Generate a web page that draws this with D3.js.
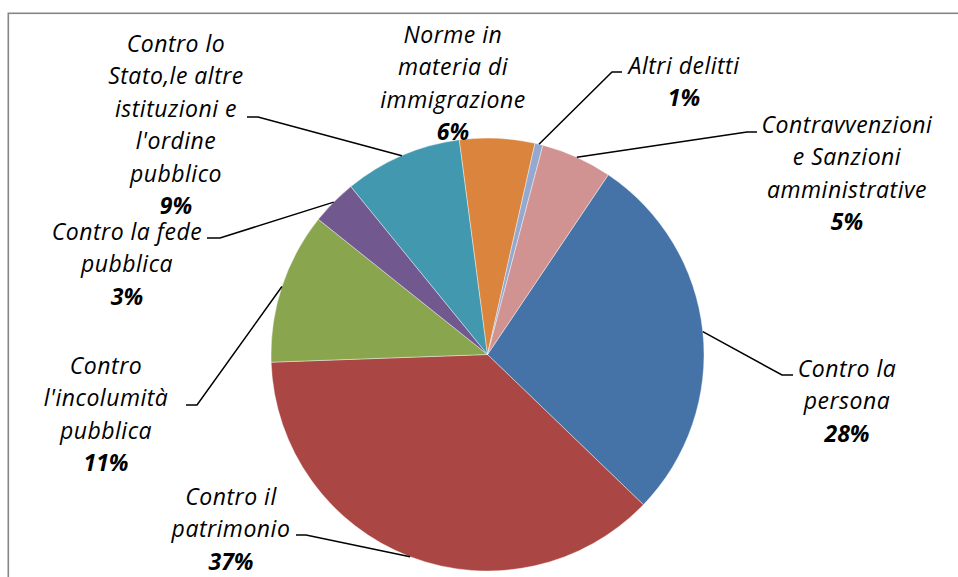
<!DOCTYPE html>
<html>
<head>
<meta charset="utf-8">
<script src="https://cdn.jsdelivr.net/npm/d3@7"></script>
<style>
  body { margin: 0; background: #fff; }
  svg { display: block; }
  .lbl { font-family: "Open Sans", "Liberation Sans", sans-serif; font-style: italic; font-size: 23px; letter-spacing: 0.5px; fill: #000; }
  .lbl .pct { font-weight: bold; letter-spacing: 0; }
</style>
</head>
<body>
<svg id="chart"></svg>
<script>
'use strict';

// categories (clockwise from the first slice) and their shares
const categories = [
  ['Contro la', 'persona'],
  ['Contro il', 'patrimonio'],
  ['Contro', "l'incolumità", 'pubblica'],
  ['Contro la fede', 'pubblica'],
  ['Contro lo', 'Stato,le altre', 'istituzioni e', "l'ordine", 'pubblico'],
  ['Norme in', 'materia di', 'immigrazione'],
  ['Altri delitti'],
  ['Contravvenzioni', 'e Sanzioni', 'amministrative']
];
const values = [27.8, 37.25, 11.3, 3.4, 8.8, 5.6, 0.6, 5.3];
const colors = ['#4572A7', '#AA4643', '#89A54E', '#71588F', '#4198AF', '#DB843D', '#93A9CF', '#D19392'];

// label layout: centre x, first line centre y, leader elbow (null = no leader)
const labelPos = [
  { x: 847, y: 369, elbow: [[793, 375], [782, 375]] },
  { x: 231, y: 497, elbow: [[296, 535], [306, 535]] },
  { x: 106, y: 366, elbow: [[186, 405], [197, 405]] },
  { x: 127, y: 232, elbow: [[207, 238], [220, 238]] },
  { x: 176, y: 44,  elbow: [[247, 117], [258, 117]] },
  { x: 453, y: 35,  elbow: null },
  { x: 684, y: 66,  elbow: [[622, 72], [612, 72]] },
  { x: 847, y: 125, elbow: [[757, 132], [747, 132]] }
];

const W = 958, H = 577;
const cx = 487.5, cy = 354.5, r = 216.5;
const lineH = 32.4;
const rot = 33.9 * Math.PI / 180;

const svg = d3.select('#chart')
  .attr('width', W)
  .attr('height', H);

// chart frame
svg.append('rect')
  .attr('x', 8.3).attr('y', 13.3)
  .attr('width', W + 20).attr('height', H + 20)
  .attr('fill', 'none')
  .attr('stroke', '#868686')
  .attr('stroke-width', 1.6);

const total = d3.sum(values);
const pie = d3.pie().sort(null).startAngle(rot).endAngle(rot + 2 * Math.PI);
const arcs = pie(values);
const arc = d3.arc().innerRadius(0).outerRadius(r);

const g = svg.append('g')
  .attr('transform', `translate(${cx}, ${cy})`);

g.selectAll('path')
  .data(arcs)
  .enter().append('path')
    .attr('d', arc)
    .attr('fill', (d, i) => colors[i])
    .attr('stroke', '#fff')
    .attr('stroke-width', 0.4);

// leader lines from slice mid-angle on the rim to the label
const leader = d3.line();
svg.append('g')
  .selectAll('path')
  .data(arcs.filter((d, i) => labelPos[i].elbow))
  .enter().append('path')
    .attr('d', d => {
      const i = d.index;
      const a = (d.startAngle + d.endAngle) / 2;
      const rim = [cx + r * Math.sin(a), cy - r * Math.cos(a)];
      return leader(labelPos[i].elbow.concat([rim]));
    })
    .attr('fill', 'none')
    .attr('stroke', '#000')
    .attr('stroke-width', 1.5);

// labels
const labels = svg.append('g')
  .selectAll('text')
  .data(arcs)
  .enter().append('text')
    .attr('class', 'lbl')
    .attr('text-anchor', 'middle')
    .attr('x', (d, i) => labelPos[i].x)
    .attr('y', (d, i) => labelPos[i].y);

labels.each(function(d, i) {
  const t = d3.select(this);
  const lines = categories[i];
  lines.forEach((ln, j) => {
    t.append('tspan')
      .attr('x', labelPos[i].x)
      .attr('y', labelPos[i].y + j * lineH)
      .attr('dy', '0.35em')
      .text(ln);
  });
  t.append('tspan')
    .attr('class', 'pct')
    .attr('x', labelPos[i].x)
    .attr('y', labelPos[i].y + lines.length * lineH)
    .attr('dy', '0.35em')
    .text(Math.round(d.data / total * 100) + '%');
});
</script>
</body>
</html>
